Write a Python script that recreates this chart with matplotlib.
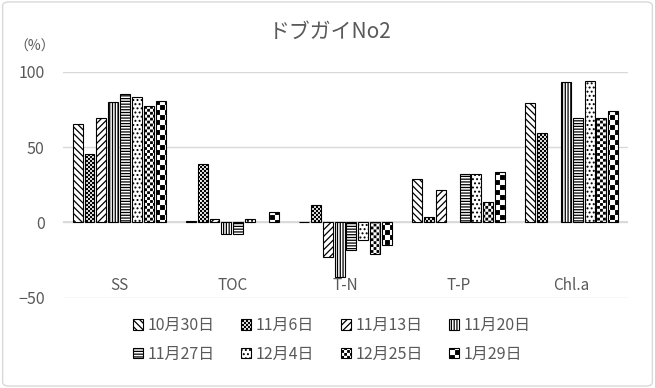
import numpy as np
import matplotlib
matplotlib.use("Agg")
import matplotlib.pyplot as plt
import matplotlib.hatch as mhatch
from matplotlib.patches import FancyBboxPatch
from matplotlib.path import Path

# ---------------------------------------------------------------- data
title = "ドブガイNo2"
unit_label = "（%）"
categories = ["SS", "TOC", "T-N", "T-P", "Chl.a"]
dates = ["10月30日", "11月6日", "11月13日", "11月20日",
         "11月27日", "12月4日", "12月25日", "1月29日"]

oct30 = [65, 1, 0.5, 28.7, 78.9]
nov06 = [45.6, 38.9, 11.6, 3.6, 59.6]
nov13 = [69.6, 2.5, -22.9, 21.3, np.nan]
nov20 = [80, -7.5, -36.2, np.nan, 92.9]
nov27 = [84.9, -7.5, -18.2, 31.8, 69.6]
dec04 = [82.9, 2.5, -11.7, 32.0, 93.6]
dec25 = [77.3, np.nan, -21.3, 13.3, 69.3]
jan29 = [80.3, 7.1, -14.9, 33.3, 73.6]
series = [oct30, nov06, nov13, nov20, nov27, dec04, dec25, jan29]

yticks = [-50, 0, 50, 100]


# ------------------------------------------------- checkerboard hatches
class _Checker(mhatch.HatchPatternBase):
    """Filled checkerboard squares; the Agg backend fills hatch paths."""
    char = "O"
    cells = 20
    inset = 0.007

    def __init__(self, hatch, density):
        self.num_vertices = 0
        if hatch.count(self.char):
            self.num_vertices = (self.cells * self.cells // 2) * 5

    def set_vertices_and_codes(self, vertices, codes):
        s = 1.0 / self.cells
        d = self.inset
        k = 0
        for r in range(self.cells):
            for c in range(self.cells):
                if (r + c) % 2:
                    continue
                x0, y0 = c * s + d, r * s + d
                x1, y1 = (c + 1) * s - d, (r + 1) * s - d
                vertices[k:k + 5] = [(x0, y0), (x1, y0), (x1, y1),
                                     (x0, y1), (x0, y0)]
                codes[k:k + 5] = [Path.MOVETO, Path.LINETO, Path.LINETO,
                                  Path.LINETO, Path.CLOSEPOLY]
                k += 5


class _LargeChecker(_Checker):
    char = "O"
    cells = 20


class _SmallChecker(_Checker):
    char = "*"
    cells = 34


class _FineChecker(_Checker):
    char = "o"
    cells = 50
    inset = 0.0055


mhatch._hatch_types = [t for t in mhatch._hatch_types
                       if t not in (mhatch.LargeCircles, mhatch.Stars,
                                    mhatch.SmallCircles)]
mhatch._hatch_types += [_LargeChecker, _SmallChecker, _FineChecker]

hatches = ["\\" * 5, "o", "/" * 5, "|" * 6, "-" * 6, "....", "*", "O"]

# --------------------------------------------------------------- style
text_color = "#595959"
grid_color = "#d9d9d9"
font = ["Noto Sans CJK JP", "DejaVu Sans"]
plt.rcParams["font.family"] = font
plt.rcParams["hatch.linewidth"] = 0.9

fig = plt.figure(figsize=(6.55, 3.88), dpi=100)
fig.patch.set_facecolor("white")
fig.patches.append(FancyBboxPatch(
    (0.004, 0.005), 0.992, 0.99, boxstyle="round,pad=0,rounding_size=0.01",
    transform=fig.transFigure, facecolor="none", edgecolor=grid_color,
    linewidth=1.0, figure=fig))

ax = fig.add_axes([0.0957, 0.2327, 0.8635, 0.5825])
ax.set_xlim(-0.5, len(categories) - 0.5)
ax.set_ylim(-50, 100)

x = np.arange(len(categories))
n = len(series)
slot = 0.1052
width = 0.088
bars = []
for i, (vals, h, lab) in enumerate(zip(series, hatches, dates)):
    b = ax.bar(x + (i - (n - 1) / 2) * slot, vals, width=width,
               facecolor="white", edgecolor="black", linewidth=0.8,
               hatch=h, label=lab, zorder=3)
    bars.append(b)

ax.set_yticks(yticks)
ax.yaxis.grid(True, color=grid_color, linewidth=1.0, zorder=0)
ax.axhline(0, color=grid_color, linewidth=1.3, zorder=2)
ax.set_xticks([])
ax.tick_params(axis="y", length=0, pad=13, labelsize=11.5,
               labelcolor=text_color)
for sp in ax.spines.values():
    sp.set_visible(False)

for xi, name in zip(x, categories):
    ax.text(xi, -42, name, ha="center", va="center", fontsize=11,
            color=text_color)

fig.text(0.504, 0.917, title, ha="center", va="center", fontsize=15,
         color=text_color)
fig.text(0.053, 0.880, unit_label, ha="center", va="center", fontsize=10,
         color=text_color)

# legend in two rows of four, filled row by row
order = [0, 4, 1, 5, 2, 6, 3, 7]
leg = fig.legend([bars[k] for k in order], [dates[k] for k in order],
                 ncol=4, loc="center", bbox_to_anchor=(0.507, 0.124),
                 frameon=False, fontsize=11.5, handlelength=0.62,
                 handleheight=0.62, handletextpad=0.3, columnspacing=1.65,
                 labelspacing=0.72, borderpad=0)
for t in leg.get_texts():
    t.set_color(text_color)

fig.savefig("out.png", dpi=100, facecolor="white")
